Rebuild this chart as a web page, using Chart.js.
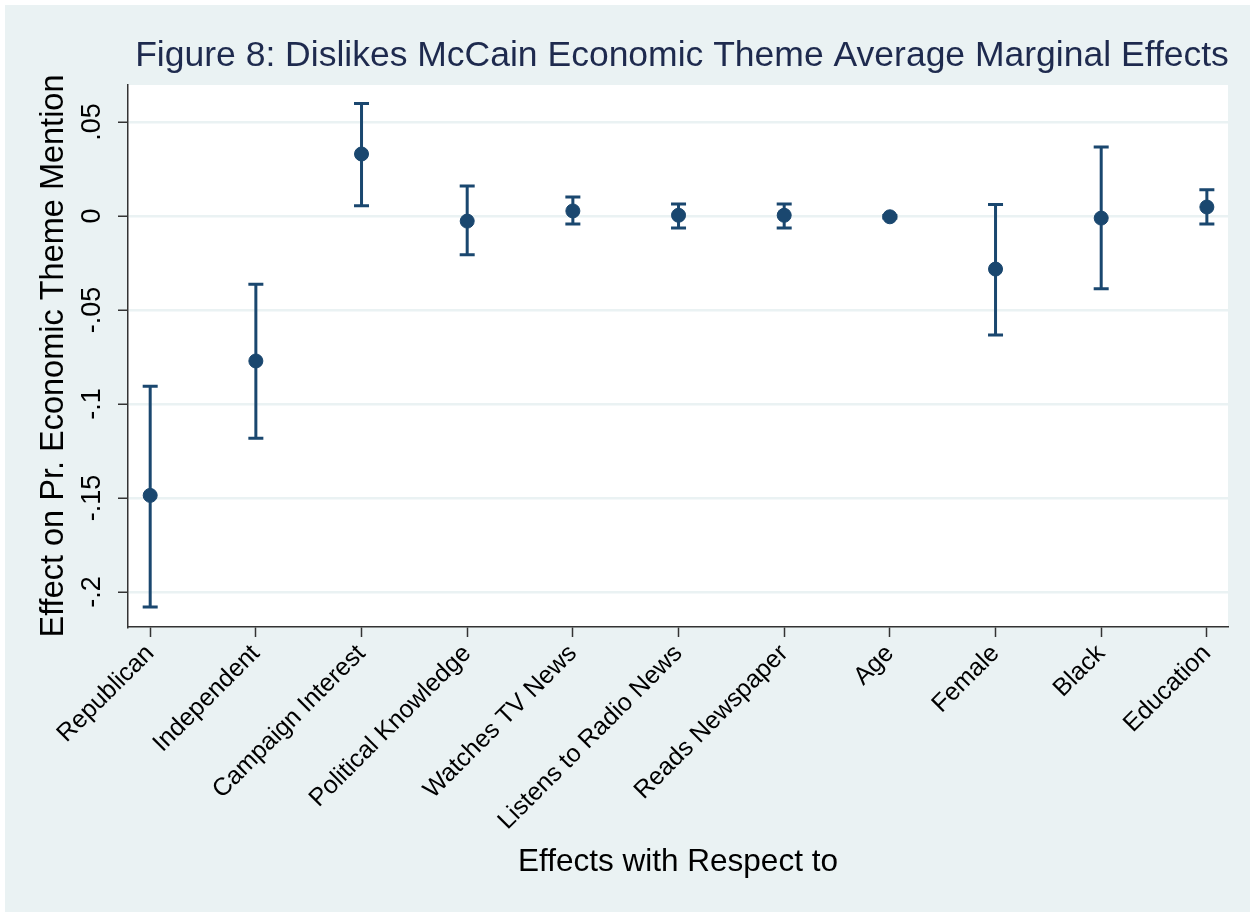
<!DOCTYPE html>
<html>
<head>
<meta charset="utf-8">
<script src="https://cdn.jsdelivr.net/npm/chart.js@4.4.1/dist/chart.umd.min.js"></script>
<style>
  body { margin: 0; background: #ffffff; }
  #wrap { position: absolute; left: 5px; top: 5px; }
</style>
</head>
<body>
<div id="wrap"><canvas id="ameChart" width="1245" height="907"></canvas></div>
<script>
// categories and estimates
const categories = ['Republican', 'Independent', 'Campaign Interest', 'Political Knowledge',
  'Watches TV News', 'Listens to Radio News', 'Reads Newspaper', 'Age', 'Female', 'Black', 'Education'];
const effects = [-0.1486, -0.0771, 0.0330, -0.0027, 0.0027, 0.0004, 0.0004, -0.0004, -0.0282, -0.0011, 0.0048];
const lower = [-0.2079, -0.1182, 0.0055, -0.0206, -0.0043, -0.0064, -0.0064, -0.0010, -0.0633, -0.0387, -0.0043];
const upper = [-0.0906, -0.0363, 0.0598, 0.0160, 0.0101, 0.0064, 0.0064, 0.0003, 0.0062, 0.0367, 0.0140];
const yTicks = [-0.2, -0.15, -0.1, -0.05, 0, 0.05];

const titleText = 'Figure 8: Dislikes McCain Economic Theme Average Marginal Effects';
const xTitle = 'Effects with Respect to';
const yTitle = 'Effect on Pr. Economic Theme Mention';

const navy = '#1A476F';
const bg = '#EAF2F3';
const font = '"Liberation Sans", Arial, sans-serif';

// stata style label: .05, -.1, 0
const fmt = v => {
  if (Math.abs(v) < 1e-9) return '0';
  let s = String(Math.round(v * 100) / 100);
  return s.replace('0.', '.');
};

const stataLook = {
  id: 'stataLook',
  beforeDraw(chart) {
    const { ctx, chartArea: a } = chart;
    ctx.save();
    ctx.fillStyle = bg;
    ctx.fillRect(0, 0, chart.width, chart.height);
    ctx.fillStyle = '#ffffff';
    ctx.fillRect(a.left, a.top, a.right - a.left, a.bottom - a.top);
    ctx.restore();
  },
  beforeDatasetsDraw(chart) {
    const { ctx, scales: { x, y } } = chart;
    ctx.save();
    ctx.strokeStyle = navy;
    ctx.lineWidth = 3;
    effects.forEach((v, i) => {
      const px = x.getPixelForValue(i + 1);
      const lo = y.getPixelForValue(lower[i]);
      const hi = y.getPixelForValue(upper[i]);
      ctx.beginPath();
      ctx.moveTo(px, lo); ctx.lineTo(px, hi);
      ctx.moveTo(px - 7.5, lo); ctx.lineTo(px + 7.5, lo);
      ctx.moveTo(px - 7.5, hi); ctx.lineTo(px + 7.5, hi);
      ctx.stroke();
    });
    ctx.restore();
  },
  afterDraw(chart) {
    const { ctx, chartArea: a, scales: { y } } = chart;
    ctx.save();
    ctx.textAlign = 'center';
    ctx.textBaseline = 'middle';
    // title
    ctx.fillStyle = '#1E2A4E';
    ctx.font = '35.5px ' + font;
    ctx.fillText(titleText, 677, 51);
    // x title
    ctx.fillStyle = '#000000';
    ctx.font = '31.5px ' + font;
    ctx.fillText(xTitle, (a.left + a.right) / 2, 857);
    // y tick labels, vertical
    ctx.font = '27px ' + font;
    yTicks.forEach(t => {
      const py = y.getPixelForValue(t);
      ctx.save();
      ctx.translate(88, py);
      ctx.rotate(-Math.PI / 2);
      ctx.fillText(fmt(t), 0, 0);
      ctx.restore();
    });
    // y title
    ctx.font = '32.5px ' + font;
    ctx.translate(49, (a.top + a.bottom) / 2);
    ctx.rotate(-Math.PI / 2);
    ctx.fillText(yTitle, 0, 0);
    ctx.restore();
  }
};

new Chart(document.getElementById('ameChart'), {
  type: 'scatter',
  data: {
    datasets: [{
      data: effects.map((v, i) => ({ x: i + 1, y: v })),
      backgroundColor: navy,
      borderColor: navy,
      pointRadius: 7,
      pointHoverRadius: 7
    }]
  },
  options: {
    responsive: false,
    animation: false,
    devicePixelRatio: 1,
    layout: { padding: { top: 80, right: 22, left: 0, bottom: 0 } },
    plugins: { legend: { display: false }, tooltip: { enabled: false } },
    scales: {
      x: {
        type: 'linear',
        min: 0.79,
        max: 11.2,
        afterFit: s => { s.height = 285; },
        afterBuildTicks: s => { s.ticks = categories.map((c, i) => ({ value: i + 1 })); },
        ticks: {
          autoSkip: false,
          minRotation: 45,
          maxRotation: 45,
          padding: 2,
          color: '#000000',
          font: { family: font, size: 25 },
          callback: v => categories[v - 1]
        },
        grid: { drawOnChartArea: false, drawTicks: true, tickLength: 10, tickColor: '#333333', tickWidth: 1.5 },
        border: { color: '#333333', width: 1.5 }
      },
      y: {
        min: -0.2186,
        max: 0.0697,
        afterFit: s => { s.width = 123; },
        afterBuildTicks: s => { s.ticks = yTicks.map(v => ({ value: v })); },
        ticks: { display: false },
        grid: { color: bg, lineWidth: 2.5, drawTicks: true, tickLength: 10, tickColor: '#333333', tickWidth: 1.5 },
        border: { color: '#333333', width: 1.5 }
      }
    }
  },
  plugins: [stataLook]
});
</script>
</body>
</html>
